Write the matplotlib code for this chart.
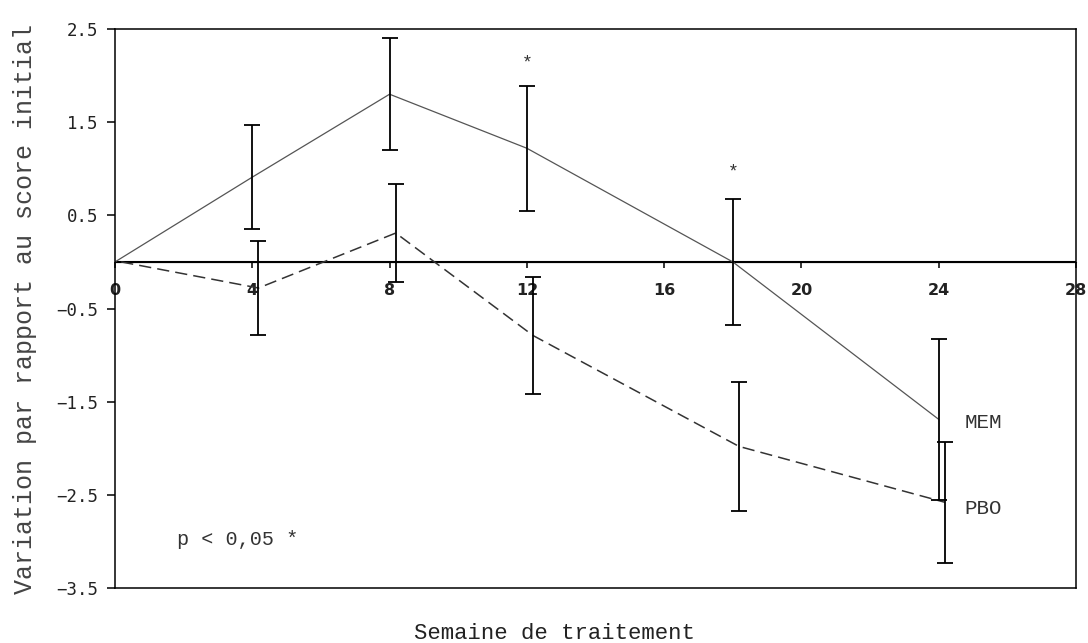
import matplotlib
matplotlib.use('Agg')
import matplotlib.pyplot as plt

# semaines de traitement
semaines = [0, 4, 8, 12, 18, 24]

# MEM : moyenne et erreur (pas de barre a la semaine 0)
mem_moy = [0.0, 0.91, 1.80, 1.22, 0.0, -1.69]
mem_err = [0.0, 0.56, 0.60, 0.67, 0.68, 0.86]

# PBO
pbo_moy = [0.0, -0.28, 0.31, -0.79, -1.98, -2.58]
pbo_err = [0.0, 0.50, 0.53, 0.63, 0.69, 0.65]

# etoiles de significativite
etoiles_x = [12, 18]
etoiles_y = [2.13, 0.96]

yticks = [2.5, 1.5, 0.5, -0.5, -1.5, -2.5, -3.5]
xticks = [0, 4, 8, 12, 16, 20, 24, 28]

mono = 'Liberation Mono'
decal = 0.18  # les barres PBO sont legerement decalees a droite

fig = plt.figure(figsize=(10.88, 6.43), dpi=100)
ax = fig.add_axes([0.1057, 0.0855, 0.8833, 0.8694])

# ligne zero
ax.axhline(0, color='black', lw=1.5, zorder=1)

ax.plot(semaines, mem_moy, color='#555555', lw=0.9, zorder=2)
ax.plot([s + decal for s in semaines], pbo_moy, color='#333333', lw=1.1,
        dashes=(8, 4), zorder=2)

ax.errorbar(semaines[1:], mem_moy[1:], yerr=mem_err[1:], fmt='none',
            ecolor='black', elinewidth=1.3, capsize=5.5, capthick=1.3, zorder=3)
ax.errorbar([s + decal for s in semaines[1:]], pbo_moy[1:], yerr=pbo_err[1:],
            fmt='none', ecolor='black', elinewidth=1.3, capsize=5.5,
            capthick=1.3, zorder=3)

for x, y in zip(etoiles_x, etoiles_y):
    ax.text(x, y, '*', family=mono, fontsize=13, ha='center', va='center',
            color='#333333')

ax.set_xlim(0, 28)
ax.set_ylim(-3.5, 2.5)

for sp in ax.spines.values():
    sp.set_linewidth(1.1)
    sp.set_color('black')

ax.set_yticks(yticks)
ax.set_yticklabels([str(v).replace('-', '\u2212') for v in yticks],
                   family='DejaVu Sans Mono', fontsize=12.5, color='#222222')
ax.tick_params(axis='y', direction='out', length=6, width=1.1, pad=6)
ax.set_xticks([])

# axe des x sur la ligne zero
sec = ax.secondary_xaxis(3.5 / 6.0)
sec.xaxis.set_ticks_position('bottom')
sec.set_xticks(xticks)
sec.set_xticklabels([str(v) for v in xticks], family='DejaVu Sans',
                    fontsize=11.5, fontweight='bold', color='#222222')
sec.tick_params(axis='x', direction='out', length=4, width=1.1, pad=11,
                bottom=True, top=False, labelbottom=True, labeltop=False)

ax.text(24.75, -1.72, 'MEM', family=mono, fontsize=15, color='#333333',
        va='center', ha='left')
ax.text(24.75, -2.65, 'PBO', family=mono, fontsize=15, color='#333333',
        va='center', ha='left')
ax.text(1.8, -2.98, 'p < 0,05 *', family=mono, fontsize=14.5, color='#333333',
        va='center', ha='left')

fig.text(0.510, 0.0155, 'Semaine de traitement', family=mono, fontsize=16,
         ha='center', va='center', color='#222222')
fig.text(0.023, 0.52, 'Variation par rapport au score initial', family=mono,
         fontsize=18, rotation=90, ha='center', va='center', color='#444444')

fig.savefig('out.png', dpi=100)
